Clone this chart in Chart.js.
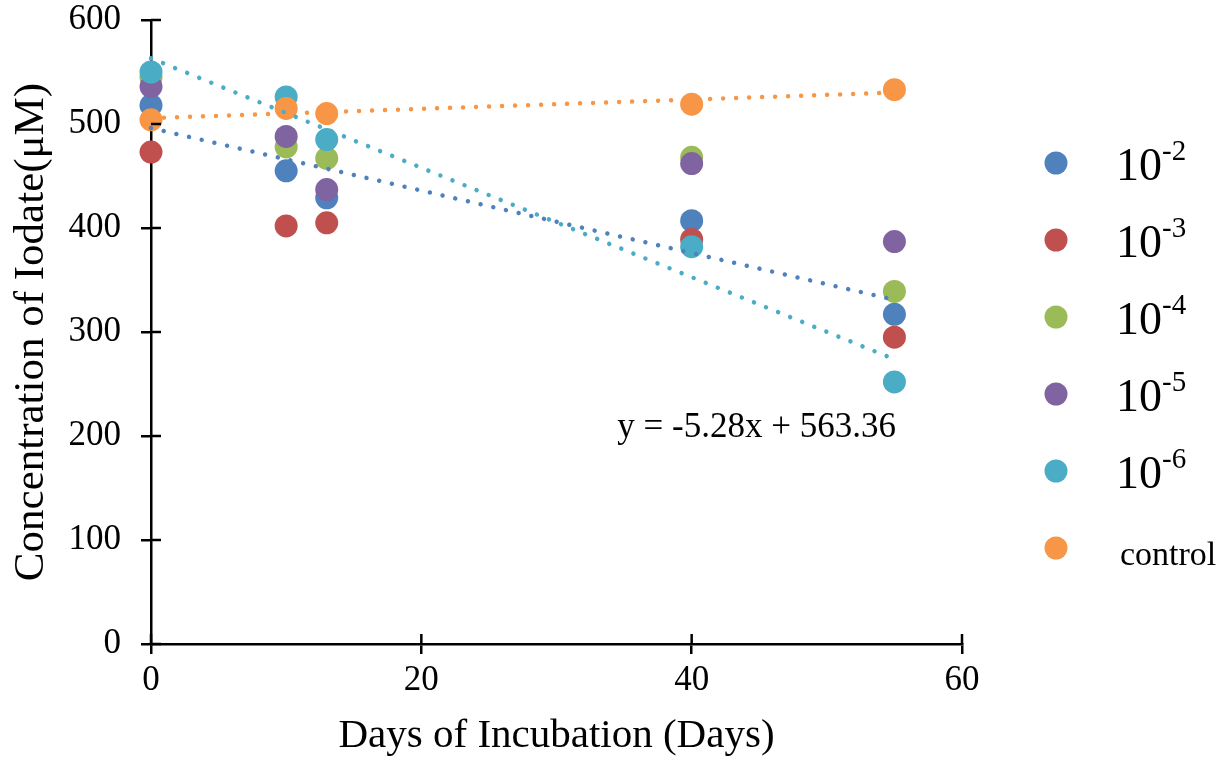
<!DOCTYPE html>
<html>
<head>
<meta charset="utf-8">
<script src="https://cdn.jsdelivr.net/npm/chart.js@4.4.4/dist/chart.umd.min.js"></script>
<style>
  html, body { margin: 0; padding: 0; background: #fff; }
  #wrap { width: 1230px; height: 761px; position: relative; }
</style>
</head>
<body>
<div id="wrap"><canvas id="chart"></canvas></div>
<script>
// data
const days = [0, 10, 13, 40, 55];
const conc1e2 = [518, 455, 429, 407, 317];
const conc1e3 = [473, 402, 405, 389, 295];
const conc1e4 = [545, 478, 467, 468, 339];
const conc1e5 = [536, 488, 437, 462, 387];
const conc1e6 = [550, 526, 485, 382, 252];
const concControl = [504, 515, 510, 519, 533];

const seriesNames = ['10^-2', '10^-3', '10^-4', '10^-5', '10^-6', 'control'];
const seriesColors = ['#4F81BD', '#C0504D', '#9BBB59', '#8064A2', '#4BACC6', '#F79646'];
const seriesValues = [conc1e2, conc1e3, conc1e4, conc1e5, conc1e6, concControl];

// series that carry a linear trendline (index into the lists above)
const trendSeries = [0, 4, 5];
const trendEnd = 55;
const equationText = 'y = -5.28x + 563.36';

const xTicks = [0, 20, 40, 60];
const yTicks = [0, 100, 200, 300, 400, 500, 600];

const FONT = "'Liberation Serif', 'Times New Roman', serif";

function linearFit(xs, ys) {
  const n = xs.length;
  const mx = xs.reduce((a, b) => a + b, 0) / n;
  const my = ys.reduce((a, b) => a + b, 0) / n;
  let sxy = 0, sxx = 0;
  for (let i = 0; i < n; i++) {
    sxy += (xs[i] - mx) * (ys[i] - my);
    sxx += (xs[i] - mx) * (xs[i] - mx);
  }
  const m = sxy / sxx;
  return { m, b: my - m * mx };
}

const datasets = [];

// trendlines first so they sit on top of the markers
trendSeries.forEach(i => {
  const fit = linearFit(days, seriesValues[i]);
  datasets.push({
    type: 'line',
    label: seriesNames[i] + ' trend',
    data: [{ x: 0, y: fit.b }, { x: trendEnd, y: fit.b + fit.m * trendEnd }],
    borderColor: seriesColors[i],
    borderWidth: 4.5,
    borderDash: [0.01, 13],
    borderCapStyle: 'round',
    pointRadius: 0,
    fill: false,
    clip: false,
    order: -1
  });
});

seriesValues.forEach((vals, i) => {
  datasets.push({
    label: seriesNames[i],
    data: vals.map((v, k) => ({ x: days[k], y: v })),
    backgroundColor: seriesColors[i],
    borderColor: seriesColors[i],
    borderWidth: 0,
    pointRadius: 11.5,
    pointHoverRadius: 11.5,
    clip: false,
    order: seriesValues.length - i
  });
});

// ticks that cross the axis line (inside part)
const crossTicks = {
  id: 'crossTicks',
  afterDatasetsDraw(chart) {
    const { ctx, scales: { x, y } } = chart;
    ctx.save();
    ctx.strokeStyle = '#000';
    ctx.lineWidth = 2.5;
    ctx.beginPath();
    yTicks.forEach(v => {
      const py = y.getPixelForValue(v);
      ctx.moveTo(x.left, py);
      ctx.lineTo(x.left + 10, py);
    });
    xTicks.forEach(v => {
      const px = x.getPixelForValue(v);
      ctx.moveTo(px, y.bottom);
      ctx.lineTo(px, y.bottom - 10);
    });
    ctx.stroke();
    ctx.restore();
  }
};

// equation label + legend with superscripts
const extras = {
  id: 'extras',
  afterDraw(chart) {
    const { ctx, scales: { x, y } } = chart;
    ctx.save();
    ctx.fillStyle = '#000';
    ctx.textBaseline = 'alphabetic';
    ctx.textAlign = 'left';
    ctx.font = '35px ' + FONT;
    ctx.fillText(equationText, x.getPixelForValue(34.5), y.getPixelForValue(199));

    const legendX = 1056;
    const legendTop = 163;
    const legendStep = 77;
    seriesNames.forEach((name, i) => {
      const cy = legendTop + i * legendStep;
      ctx.beginPath();
      ctx.fillStyle = seriesColors[i];
      ctx.arc(legendX, cy, 11.5, 0, Math.PI * 2);
      ctx.fill();
      ctx.fillStyle = '#000';
      const parts = name.split('^');
      if (parts.length === 2) {
        ctx.font = '46px ' + FONT;
        ctx.fillText(parts[0], 1116, cy + 17);
        const w = ctx.measureText(parts[0]).width;
        ctx.font = '29px ' + FONT;
        ctx.fillText(parts[1], 1116 + w, cy - 3);
      } else {
        ctx.font = '34px ' + FONT;
        ctx.fillText(name, 1120, cy + 17);
      }
    });
    ctx.restore();
  }
};

new Chart(document.getElementById('chart'), {
  type: 'scatter',
  data: { datasets },
  options: {
    responsive: true,
    maintainAspectRatio: false,
    animation: false,
    layout: { padding: { left: 0, top: 20, right: 268, bottom: 0 } },
    plugins: {
      legend: { display: false },
      tooltip: { enabled: false }
    },
    scales: {
      x: {
        type: 'linear',
        min: 0,
        max: 60,
        afterBuildTicks: s => { s.ticks = xTicks.map(v => ({ value: v })); },
        afterFit: s => { s.height = 117; s.paddingLeft = 0; s.paddingRight = 0; },
        border: { display: true, color: '#000', width: 2.5 },
        grid: { drawOnChartArea: false, drawTicks: true, tickLength: 10, color: '#000', lineWidth: 2.5 },
        ticks: { color: '#000', font: { family: FONT, size: 35 }, padding: 6, maxRotation: 0 },
        title: {
          display: true,
          text: 'Days of Incubation (Days)',
          color: '#000',
          font: { family: FONT, size: 41 },
          padding: { top: 4, bottom: 0 }
        }
      },
      y: {
        min: 0,
        max: 600,
        afterBuildTicks: s => { s.ticks = yTicks.map(v => ({ value: v })); },
        afterFit: s => { s.width = 151; s.paddingTop = 0; s.paddingBottom = 0; },
        border: { display: true, color: '#000', width: 2.5 },
        grid: { drawOnChartArea: false, drawTicks: true, tickLength: 10, color: '#000', lineWidth: 2.5 },
        ticks: { color: '#000', font: { family: FONT, size: 35 }, padding: 20 },
        title: {
          display: true,
          text: 'Concentration of Iodate(\u03bcM)',
          color: '#000',
          font: { family: FONT, size: 43 },
          padding: { top: 6, bottom: 0 }
        }
      }
    }
  },
  plugins: [crossTicks, extras]
});
</script>
</body>
</html>
